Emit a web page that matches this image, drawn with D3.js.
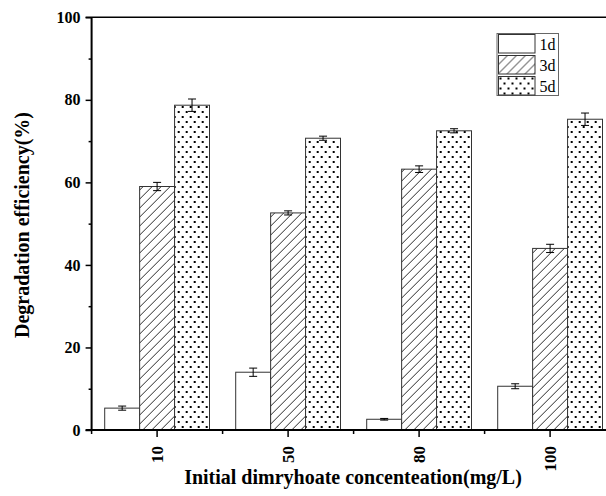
<!DOCTYPE html>
<meta charset="utf-8">
<style>
body { margin: 0; background: #fff; }
text { font-family: "Liberation Serif", "Times New Roman", serif; }
.title { font-weight: bold; font-size: 20px; }
</style>
<svg width="606" height="496"></svg>
<script src="https://cdn.jsdelivr.net/npm/d3@7"></script>
<script>

var categories = ["10", "50", "80", "100"],
    series = ["1d", "3d", "5d"],
    values = {
      "1d": [5.3, 14.0, 2.6, 10.6],
      "3d": [59.0, 52.6, 63.2, 44.0],
      "5d": [78.7, 70.7, 72.5, 75.3]
    },
    errors = {
      "1d": [0.5, 1.0, 0.2, 0.6],
      "3d": [1.0, 0.5, 0.8, 1.0],
      "5d": [1.5, 0.5, 0.5, 1.5]
    },
    yTicks = [0, 20, 40, 60, 80, 100],
    yMinor = [10, 30, 50, 70, 90];

var svg = d3.select("svg"),
    plotLeft = 91.6, plotRight = 615.6, plotTop = 17.3, plotBottom = 430;

// patterns
var defs = svg.append("defs");
var hatch = defs.append("pattern")
    .attr("id", "hatch")
    .attr("patternUnits", "userSpaceOnUse")
    .attr("width", 9).attr("height", 9);
hatch.append("rect").attr("width", 9).attr("height", 9).attr("fill", "#fff");
hatch.append("path")
    .attr("d", "M-1,10 L10,-1 M-5,5 L5,-5 M4,14 L14,4")
    .attr("stroke", "#111").attr("stroke-width", 0.9);

var dots = defs.append("pattern")
    .attr("id", "dots")
    .attr("patternUnits", "userSpaceOnUse")
    .attr("width", 8).attr("height", 10);
dots.append("rect").attr("width", 8).attr("height", 10).attr("fill", "#fff");
dots.append("rect").attr("x", 1).attr("y", 1).attr("width", 2).attr("height", 2).attr("fill", "#000");
dots.append("rect").attr("x", 5).attr("y", 6).attr("width", 2).attr("height", 2).attr("fill", "#000");

var fills = {"1d": "#fff", "3d": "url(#hatch)", "5d": "url(#dots)"};

var x0 = d3.scaleBand().domain(categories).range([plotLeft, plotRight])
    .paddingInner(0.2).paddingOuter(0.1);
var x1 = d3.scaleBand().domain(series).range([0, x0.bandwidth()]);
var y = d3.scaleLinear().domain([0, 100]).range([plotBottom, plotTop]);

function rows(c, i) {
  return series.map(function(s) { return {s: s, v: values[s][i], e: errors[s][i]}; });
}
function cx(d) { return x1(d.s) + x1.bandwidth() / 2; }

// bars
var groups = svg.selectAll(".grp")
    .data(categories)
    .enter().append("g")
      .attr("class", "grp")
      .attr("transform", function(d) { return "translate(" + x0(d) + ",0)"; });

groups.selectAll("rect")
    .data(rows)
    .enter().append("rect")
      .attr("x", function(d) { return x1(d.s); })
      .attr("y", function(d) { return y(d.v); })
      .attr("width", x1.bandwidth())
      .attr("height", function(d) { return plotBottom - y(d.v); })
      .attr("fill", function(d) { return fills[d.s]; })
      .attr("stroke", "#333")
      .attr("stroke-width", 1);

// error bars
var eb = groups.selectAll(".err")
    .data(rows)
    .enter().append("g")
      .attr("class", "err")
      .attr("stroke", "#000")
      .attr("stroke-width", 1);
eb.append("line")
    .attr("x1", cx).attr("x2", cx)
    .attr("y1", function(d) { return y(d.v - d.e); })
    .attr("y2", function(d) { return y(d.v + d.e); });
[-1, 1].forEach(function(sign) {
  eb.append("line")
      .attr("x1", function(d) { return cx(d) - 4; })
      .attr("x2", function(d) { return cx(d) + 4; })
      .attr("y1", function(d) { return y(d.v + sign * d.e); })
      .attr("y2", function(d) { return y(d.v + sign * d.e); });
});

// y axis
var yAxis = svg.append("g")
    .attr("transform", "translate(" + plotLeft + ",0)")
    .call(d3.axisLeft(y).tickValues(yTicks).tickSize(6).tickPadding(5).tickFormat(d3.format("d")));
yAxis.select(".domain").remove();
yAxis.selectAll(".tick line").attr("stroke-width", 1.5);
yAxis.selectAll(".tick text")
    .style("font-size", "16px").style("font-weight", "bold")
    .style("font-family", "Liberation Serif");
svg.append("g")
    .attr("transform", "translate(" + plotLeft + ",0)")
    .call(d3.axisLeft(y).tickValues(yMinor).tickSize(3).tickFormat(""))
    .call(function(g) { g.select(".domain").remove(); g.selectAll("line").attr("stroke-width", 1.5); });

// x axis
var xAxis = svg.append("g")
    .attr("transform", "translate(0," + plotBottom + ")")
    .call(d3.axisBottom(x0).tickSize(7).tickPadding(0));
xAxis.select(".domain").remove();
xAxis.selectAll(".tick line").attr("stroke-width", 1.5);
xAxis.selectAll(".tick text")
    .attr("transform", "rotate(-90)")
    .attr("x", -16).attr("y", 0).attr("dy", "0.35em")
    .attr("text-anchor", "end")
    .style("font-size", "17px").style("font-weight", "bold")
    .style("font-family", "Liberation Serif");

var minorX = d3.range(categories.length + 1).map(function(i) { return plotLeft + i * x0.step(); });
svg.selectAll(".xminor")
    .data(minorX)
    .enter().append("line")
      .attr("x1", function(d) { return d; }).attr("x2", function(d) { return d; })
      .attr("y1", plotBottom).attr("y2", plotBottom + 4)
      .attr("stroke", "#000").attr("stroke-width", 1.5);

// frame lines
svg.append("line").attr("x1", plotLeft).attr("x2", plotLeft).attr("y1", plotTop).attr("y2", plotBottom + 1)
    .attr("stroke", "#000").attr("stroke-width", 2);
svg.append("line").attr("x1", plotLeft - 6).attr("x2", 606).attr("y1", plotBottom).attr("y2", plotBottom)
    .attr("stroke", "#000").attr("stroke-width", 2);
svg.append("line").attr("x1", plotLeft - 6).attr("x2", 606).attr("y1", plotTop).attr("y2", plotTop)
    .attr("stroke", "#000").attr("stroke-width", 1.5);

// titles
svg.append("text")
    .attr("class", "title")
    .attr("x", 353).attr("y", 484)
    .attr("text-anchor", "middle")
    .text("Initial dimryhoate concenteation(mg/L)");
svg.append("text")
    .attr("class", "title")
    .attr("transform", "translate(29,225) rotate(-90)")
    .attr("text-anchor", "middle")
    .text("Degradation efficiency(%)");

// legend
var legend = svg.append("g").attr("transform", "translate(497,33.5)");
legend.append("rect")
    .attr("width", 61.5).attr("height", 62)
    .attr("fill", "#fff").attr("stroke", "#666").attr("stroke-width", 1);
var li = legend.selectAll(".li")
    .data(series)
    .enter().append("g")
      .attr("transform", function(d, i) { return "translate(1.5," + (1 + i * 21) + ")"; });
li.append("rect")
    .attr("width", 36.5).attr("height", 18.5)
    .attr("fill", function(d) { return fills[d]; })
    .attr("stroke", "#333").attr("stroke-width", 1);
li.append("text")
    .attr("x", 41).attr("y", 15)
    .style("font-size", "16px")
    .text(function(d) { return d; });

</script>
